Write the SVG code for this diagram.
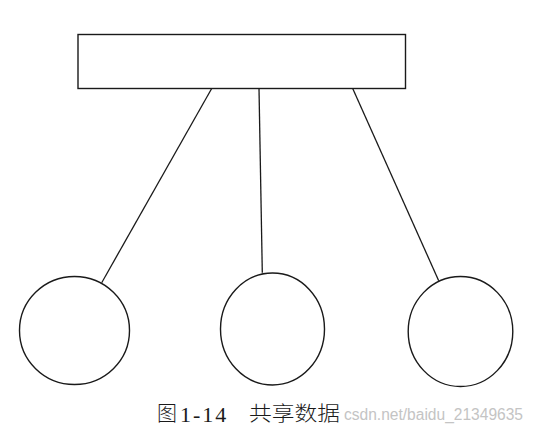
<svg xmlns="http://www.w3.org/2000/svg" width="538" height="430" viewBox="0 0 538 430">
<style>
.shape{fill:none;stroke:#1a1a1a;stroke-width:1.4}
.conn{stroke:#1a1a1a;stroke-width:1.3;fill:none}
.cap{font-family:"Liberation Serif","Noto Sans CJK SC",serif;font-size:20px;font-weight:300;fill:#1a1a1a}
.num{font-family:"Liberation Serif",serif;font-size:22px;letter-spacing:2px;fill:#1a1a1a}
.wm{font-family:"Liberation Sans",Arial,sans-serif;font-size:16px;fill:#c4c4c4}
</style>
<rect width="538" height="430" fill="#ffffff"/>
<g id="top-box"><rect class="shape" x="78" y="34.5" width="327.5" height="54"/></g>
<g id="circle-left"><ellipse class="shape" cx="74.5" cy="330.5" rx="55" ry="54"/></g>
<g id="circle-middle"><ellipse class="shape" cx="272.5" cy="329" rx="52" ry="56"/></g>
<g id="circle-right"><ellipse class="shape" cx="460.5" cy="331.5" rx="52.3" ry="55"/></g>
<g id="connectors">
<line class="conn" x1="211.7" y1="88.5" x2="101.7" y2="282.7"/>
<line class="conn" x1="259" y1="88.5" x2="262.3" y2="272.7"/>
<line class="conn" x1="352.7" y1="88.5" x2="438.7" y2="280.7"/>
</g>
<text class="wm" x="344" y="420" textLength="179" lengthAdjust="spacingAndGlyphs">csdn.net/baidu_21349635</text>
<g id="caption">
<text class="cap" x="157" y="421">图</text>
<text class="num" x="180" y="422">1-14</text>
<text class="cap" x="249" y="421" textLength="91" lengthAdjust="spacingAndGlyphs">共享数据</text>
</g>
</svg>
